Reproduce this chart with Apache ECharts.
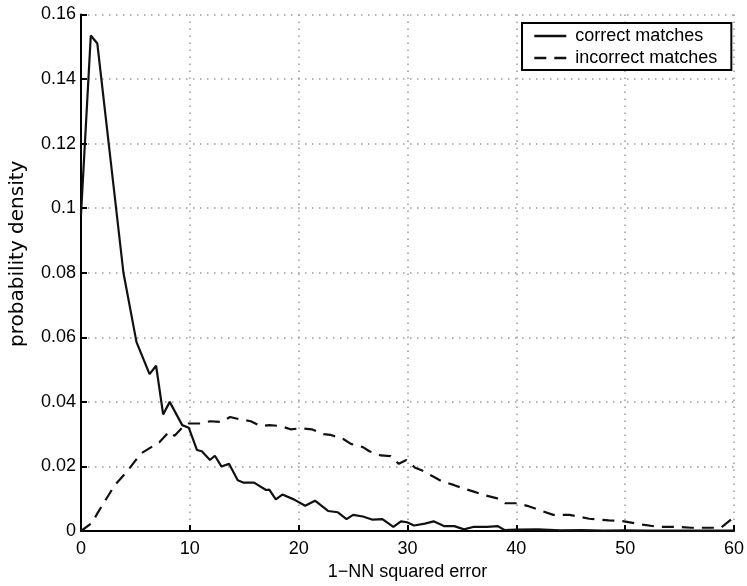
<!DOCTYPE html>
<html>
<head>
    <meta charset="utf-8">
    <title>1-NN squared error</title>
    <script src="https://cdn.jsdelivr.net/npm/echarts@6/dist/echarts.min.js"></script>
    <style>
        html, body { margin: 0; padding: 0; background: #fff; }
        #chartmain { width: 747px; height: 586px; }
    </style>
</head>
<body>
<div id="chartmain"></div>
<script>
    // values
    var seriesNames = ['correct matches', 'incorrect matches'];

    var xCorrect = [0, 0.9, 1.5, 3.9, 5.1, 6.3, 6.9, 7.55, 8.15, 9.3, 9.9, 10.65, 11.1, 11.85, 12.3, 12.9, 13.6,
        14.4, 14.9, 15.9, 17.0, 17.3, 17.9, 18.5, 19.55, 20.6, 21.5, 22.7, 23.6, 24.4, 25.0, 25.9, 26.8, 27.7,
        28.7, 29.4, 29.95, 30.6, 31.6, 32.4, 33.4, 34.3, 35.2, 36.1, 37.3, 38.3, 38.9, 40, 42, 44, 46, 48, 50,
        52, 54, 56, 58, 60];
    var yCorrect = [0.098, 0.1535, 0.151, 0.080, 0.0585, 0.0486, 0.0512, 0.0361, 0.040, 0.0328, 0.032, 0.0251,
        0.0247, 0.022, 0.0233, 0.020, 0.0208, 0.0157, 0.015, 0.015, 0.0127, 0.0128, 0.0098, 0.0113, 0.0098,
        0.0078, 0.0094, 0.0062, 0.0058, 0.0037, 0.005, 0.0045, 0.0035, 0.0037, 0.0013, 0.003, 0.0027, 0.0017,
        0.0023, 0.003, 0.0015, 0.0015, 0.0005, 0.0013, 0.0013, 0.0015, 0.0003, 0.0004, 0.0005, 0.0002, 0.0003,
        0.0001, 0.0002, 0.0001, 0.0001, 0.0001, 0.0001, 0.0001];

    var xIncorrect = [0, 1, 1.6, 3.1, 4.2, 5.5, 7.2, 8.1, 8.6, 9.3, 9.9, 10.95, 11.85, 12.9, 13.7, 14.6, 15.6,
        16.5, 17.3, 18.35, 19.25, 20.2, 21.2, 22.3, 22.9, 24.1, 24.8, 25.9, 26.5, 27.55, 28.45, 29.2, 29.9,
        30.7, 31.3, 32.4, 33.1, 34.3, 35.1, 36.1, 37.05, 38.25, 39.0, 40.1, 41.0, 43.4, 44.9, 46.7, 48.5,
        49.9, 51.6, 53.0, 54.6, 56.1, 58.8, 59.9];
    var yIncorrect = [0, 0.0025, 0.006, 0.0142, 0.0183, 0.024, 0.0275, 0.0308, 0.0295, 0.032, 0.0333, 0.0333,
        0.034, 0.0338, 0.0353, 0.0346, 0.034, 0.0325, 0.0328, 0.0325, 0.0315, 0.0318, 0.0315, 0.030, 0.0298,
        0.0285, 0.027, 0.026, 0.0247, 0.0234, 0.0232, 0.0208, 0.022, 0.0196, 0.0188, 0.0168, 0.0155, 0.0142,
        0.0132, 0.0122, 0.0111, 0.0101, 0.0086, 0.0086, 0.0078, 0.005, 0.005, 0.0038, 0.0033, 0.003, 0.002,
        0.0013, 0.0013, 0.001, 0.001, 0.004];

    function pairs(xs, ys) {
        var out = [];
        for (var i = 0; i < xs.length; i++) {
            out.push([xs[i], ys[i]]);
        }
        return out;
    }

    var myChart = echarts.init(document.getElementById('chartmain'));

    var gridLine = {show: true, lineStyle: {color: '#9a9a9a', width: 1.5, type: [1.5, 5.5]}};
    var font = 'Liberation Sans, Arial, sans-serif';
    var dash = [12, 8];

    var option = {
        animation: false,
        backgroundColor: '#fff',
        grid: {left: 77, right: 7, top: 14.5, bottom: 48},
        legend: {
            orient: 'vertical',
            left: 522,
            top: 23,
            padding: [4, 14, 3, 11],
            itemWidth: 32,
            itemHeight: 14,
            itemGap: 4,
            borderColor: '#000',
            borderWidth: 2,
            backgroundColor: '#fff',
            textStyle: {fontFamily: font, fontSize: 18, color: '#000', lineHeight: 18, padding: [0, 0, 0, 4]},
            data: [
                {name: seriesNames[0], itemStyle: {opacity: 0}, lineStyle: {color: '#111', width: 2.6, type: 'solid'}},
                {name: seriesNames[1], itemStyle: {opacity: 0}, lineStyle: {color: '#111', width: 2.6, type: dash}}
            ]
        },
        xAxis: {
            type: 'value',
            min: 0,
            max: 60,
            interval: 10,
            name: '1\u2212NN squared error',
            nameLocation: 'middle',
            nameGap: 32,
            nameTextStyle: {fontFamily: font, fontSize: 18, color: '#000'},
            axisLine: {show: true, onZero: false, lineStyle: {color: '#000', width: 2}},
            axisTick: {show: true, inside: true, length: 6, lineStyle: {color: '#000', width: 2}},
            axisLabel: {fontFamily: font, fontSize: 18, color: '#000', margin: 9},
            splitLine: gridLine
        },
        yAxis: {
            type: 'value',
            min: 0,
            max: 0.16,
            interval: 0.02,
            name: 'probability density',
            nameLocation: 'middle',
            nameGap: 53,
            nameTextStyle: {fontFamily: 'DejaVu Sans, sans-serif', fontSize: 20, color: '#000', padding: [0, 0, 0, 38]},
            axisLine: {show: true, lineStyle: {color: '#000', width: 2}},
            axisTick: {show: true, inside: true, length: 6, lineStyle: {color: '#000', width: 2}},
            axisLabel: {fontFamily: font, fontSize: 18, color: '#000', margin: 5},
            splitLine: gridLine
        },
        series: [
            {
                name: seriesNames[0],
                type: 'line',
                symbol: 'none',
                data: pairs(xCorrect, yCorrect),
                lineStyle: {color: '#111', width: 2.2, type: 'solid'},
                itemStyle: {color: '#111'}
            },
            {
                name: seriesNames[1],
                type: 'line',
                symbol: 'none',
                data: pairs(xIncorrect, yIncorrect),
                lineStyle: {color: '#111', width: 2.2, type: dash},
                itemStyle: {color: '#111'}
            }
        ]
    };

    myChart.setOption(option);
</script>
</body>
</html>
